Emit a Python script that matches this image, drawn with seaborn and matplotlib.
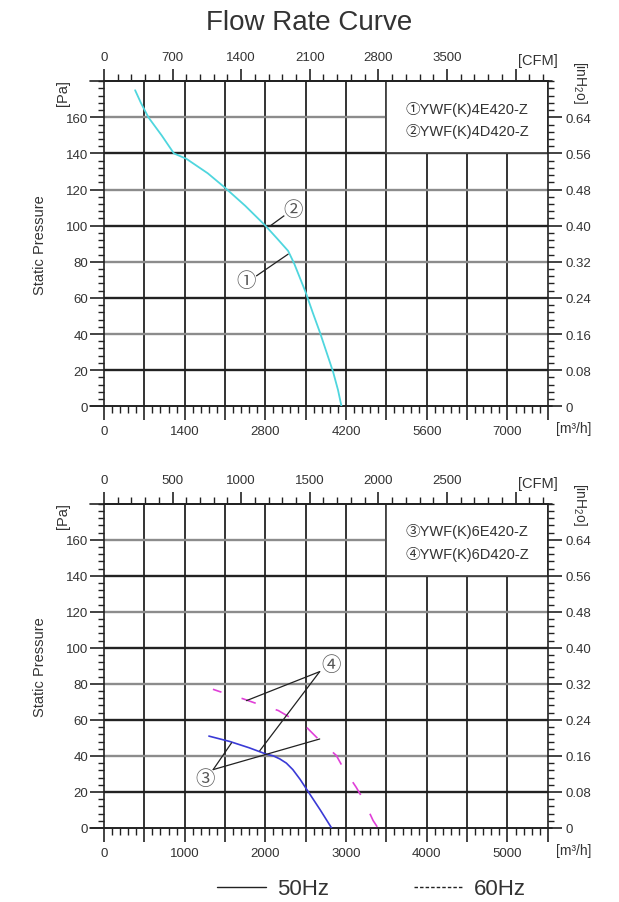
import numpy as np
import pandas as pd
import matplotlib
matplotlib.use('Agg')
import matplotlib.pyplot as plt
from matplotlib.ticker import MultipleLocator, FixedLocator, FuncFormatter
from matplotlib.patches import Rectangle
from matplotlib.lines import Line2D
import seaborn as sns

# ---- values ----
# top panel: YWF(K)4E420-Z / YWF(K)4D420-Z (one curve, m3/h vs Pa)
flow_4 = [540, 640, 770, 1000, 1213, 1430, 1800, 2100, 2450, 2800, 3000, 3195,
          3300, 3400, 3500, 3620, 3745, 3860, 3975, 4060, 4120]
pressure_4 = [175, 168, 160, 150, 140, 137, 129, 121, 111, 100, 93, 86,
              79, 71, 63, 52, 41, 30, 19, 9, 0]

# bottom panel: YWF(K)6E420-Z / YWF(K)6D420-Z
flow_6_50 = [1300, 1560, 1800, 2010, 2100, 2180, 2260, 2340, 2430, 2530, 2680, 2820]
pressure_6_50 = [51, 48, 44.5, 41, 40, 38.3, 36, 32.4, 27, 20.2, 10, 0]
flow_6_60 = [1350, 1435, 1725, 1870, 2160, 2300, 2510, 2675, 2880, 2960, 3125, 3210, 3335, 3395]
pressure_6_60 = [77, 75.7, 71.7, 69.4, 65.2, 61.5, 55.9, 48.5, 40.2, 33.7, 22.6, 16.1, 4.1, 0]

models_top = ['①YWF(K)4E420-Z', '②YWF(K)4D420-Z']
models_bottom = ['③YWF(K)6E420-Z', '④YWF(K)6D420-Z']

# callouts: (mark, circle position, leader start, leader ends)
callouts_top = [('②', (3275, 109), (3165, 106.4), [(2877, 99.7)]),
                ('①', (2473, 69.4), (2645, 72.2), [(3194, 84.2)])]
callouts_bottom = [('④', (2818, 91), (2673, 86.8), [(1766, 70.7), (1931, 42.9)]),
                   ('③', (1250, 27.2), (1353, 32.4), [(1580, 47.2), (2673, 49.4)])]

M3H_PER_CFM = 1.7
PA_PER_INH2O = 250

sns.set_theme(style='white')
plt.rcParams['font.family'] = ['Liberation Sans', 'Noto Sans CJK SC', 'DejaVu Sans']
plt.rcParams['mathtext.fontset'] = 'custom'
plt.rcParams['mathtext.rm'] = 'Liberation Sans'

INK = '#222222'
TXT = '#333333'
CJK = ['Noto Sans CJK SC', 'DejaVu Sans']


def setup_panel(ax, xmax, step, cfm_step, cfm_last, box_from, names):
    ax.set_xlim(0, xmax)
    ax.set_ylim(0, 180)

    # grid, drawn by hand so the lines can alternate dark / grey
    for gx in np.arange(step, xmax, step):
        ax.axvline(gx, color='#333333', lw=1.4, zorder=1)
    for gy in range(20, 180, 20):
        ax.axhline(gy, color=INK if gy % 40 else '#8c8c8c', lw=1.7, zorder=1)

    # model box in the upper right corner
    ax.add_patch(Rectangle((box_from, 140), xmax - box_from, 40, facecolor='white',
                           edgecolor='#444444', lw=1.3, zorder=2))
    cx = box_from + (xmax - box_from) / 2
    for name, yy in zip(names, [165, 152.5]):
        ax.text(cx, yy, name, ha='center', va='center', fontsize=10.5, color=TXT,
                family=['Liberation Sans', 'Noto Sans CJK SC'], zorder=3)

    for s in ax.spines.values():
        s.set_color(INK)
        s.set_linewidth(1.2)
        s.set_visible(True)

    # bottom axis  (m3/h)
    ax.xaxis.set_major_locator(MultipleLocator(step))
    ax.xaxis.set_minor_locator(MultipleLocator(step / 5))
    ax.xaxis.set_major_formatter(FuncFormatter(
        lambda v, p: f'{v:.0f}' if round(v / step) % 2 == 0 and v < xmax - 1 else ''))
    ax.tick_params(axis='x', which='major', bottom=True, direction='out', length=10,
                   width=1.2, color=INK, pad=3.5, labelsize=9.5, labelcolor=TXT)
    ax.tick_params(axis='x', which='minor', bottom=True, direction='out', length=5,
                   width=1.0, color=INK)

    # left axis (Pa)
    ax.yaxis.set_major_locator(FixedLocator(list(range(0, 161, 20))))
    ax.yaxis.set_minor_locator(MultipleLocator(4))
    ax.tick_params(axis='y', which='major', left=True, direction='out', length=10,
                   width=1.2, color=INK, pad=1.5, labelsize=9.5, labelcolor=TXT)
    ax.tick_params(axis='y', which='minor', left=True, direction='out', length=4.5,
                   width=1.0, color=INK)

    # right axis (inH2O)
    ax2 = ax.twinx()
    ax2.set_ylim(0, 180 / PA_PER_INH2O)
    ax2.grid(False)
    ax2.yaxis.set_major_locator(FixedLocator([i * 0.08 for i in range(9)]))
    ax2.yaxis.set_minor_locator(MultipleLocator(0.016))
    ax2.yaxis.set_major_formatter(FuncFormatter(lambda v, p: '0' if v < 1e-6 else f'{v:.2f}'))
    ax2.tick_params(axis='y', which='major', right=True, direction='out', length=10,
                    width=1.2, color=INK, pad=3, labelsize=9.5, labelcolor=TXT)
    ax2.tick_params(axis='y', which='minor', right=True, direction='out', length=4.5,
                    width=1.0, color=INK)
    for s in ax2.spines.values():
        s.set_visible(False)

    # top axis (CFM)
    sec = ax.secondary_xaxis('top', functions=(lambda x: x / M3H_PER_CFM,
                                               lambda c: c * M3H_PER_CFM))
    sec.xaxis.set_major_locator(MultipleLocator(cfm_step))
    sec.xaxis.set_minor_locator(MultipleLocator(cfm_step / 5))
    sec.xaxis.set_major_formatter(FuncFormatter(
        lambda v, p: f'{v:.0f}' if v <= cfm_last + 1 else ''))
    sec.tick_params(which='major', direction='out', length=9, width=1.2, color=INK,
                    pad=4, labelsize=9.5, labelcolor=TXT)
    sec.tick_params(which='minor', direction='out', length=5, width=1.0, color=INK)
    sec.spines['top'].set_color(INK)
    sec.spines['top'].set_linewidth(1.2)

    # axis extensions past the corners
    for yy in (0, 1):
        ax.plot([-0.032, 1.01], [yy, yy], transform=ax.transAxes, color=INK,
                lw=1.2, clip_on=False, zorder=4)

    # unit labels
    ax.text(0.977, 1.065, '[CFM]', transform=ax.transAxes, ha='center', va='center',
            fontsize=10.5, color=TXT)
    ax.text(1.018, -0.068, '[m³/h]', transform=ax.transAxes, ha='left', va='center',
            fontsize=10, color=TXT)
    ax.text(-0.092, 0.966, '[Pa]', transform=ax.transAxes, ha='center', va='center',
            fontsize=10.5, color=TXT, rotation=90)
    ax.text(-0.144, 0.498, 'Static Pressure', transform=ax.transAxes, ha='center',
            va='center', fontsize=10.5, color=TXT, rotation=90)
    ax.text(1.072, 1.0, r'[inH$_\mathregular{2}$o]', transform=ax.transAxes,
            ha='center', va='center', fontsize=10, color=TXT, rotation=270)
    ax.set_xlabel('')
    ax.set_ylabel('')


def draw_callouts(ax, callouts):
    for mark, circ, start, ends in callouts:
        for end in ends:
            ax.plot([start[0], end[0]], [start[1], end[1]], color=INK, lw=0.9, zorder=5)
        ax.text(circ[0], circ[1], mark, ha='center', va='center', fontsize=14,
                color='#555555', family=CJK, zorder=6,
                bbox=dict(boxstyle='circle,pad=0.0', fc='white', ec='none'))


fig = plt.figure(figsize=(6.19, 9.03), dpi=100)
ax_top = fig.add_axes([0.168, 0.549, 0.717, 0.360])
ax_bot = fig.add_axes([0.168, 0.082, 0.717, 0.359])

# top panel
setup_panel(ax_top, 7700, 700, 700, 3500, 4900, models_top)
df_top = pd.DataFrame({'flow': flow_4, 'pressure': pressure_4})
sns.lineplot(data=df_top, x='flow', y='pressure', ax=ax_top, sort=False,
             estimator=None, color='#4fd6de', lw=1.3, zorder=4)
draw_callouts(ax_top, callouts_top)
ax_top.set_xlabel('')
ax_top.set_ylabel('')

# bottom panel
setup_panel(ax_bot, 5500, 500, 500, 2500, 3500, models_bottom)
df_50 = pd.DataFrame({'flow': flow_6_50, 'pressure': pressure_6_50})
df_60 = pd.DataFrame({'flow': flow_6_60, 'pressure': pressure_6_60})
sns.lineplot(data=df_50, x='flow', y='pressure', ax=ax_bot, sort=False,
             estimator=None, color='#3a3ad6', lw=1.2, zorder=4)
sns.lineplot(data=df_60, x='flow', y='pressure', ax=ax_bot, sort=False,
             estimator=None, color='#e040d8', lw=1.2, zorder=4,
             linestyle=(3.6, (9, 12.6)))
draw_callouts(ax_bot, callouts_bottom)
ax_bot.set_xlabel('')
ax_bot.set_ylabel('')

fig.suptitle('Flow Rate Curve', x=0.5, y=0.974, fontsize=20, color=TXT, va='center')

handles = [Line2D([], [], color=INK, lw=1.0),
           Line2D([], [], color=INK, lw=1.0, linestyle=(0, (2.5, 1.5)))]
fig.legend(handles, ['50Hz', '60Hz'], loc='center', bbox_to_anchor=(0.6, 0.0145),
           ncol=2, frameon=False, fontsize=16, handlelength=2.2, handletextpad=0.5,
           columnspacing=3.8, labelcolor=TXT)

fig.savefig('out.png', dpi=100, facecolor='white')
